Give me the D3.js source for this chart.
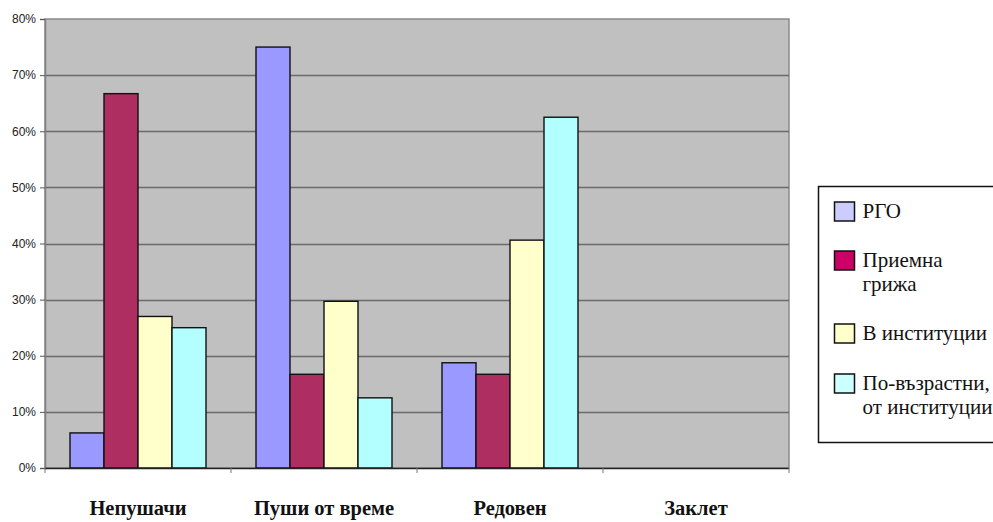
<!DOCTYPE html>
<html>
<head>
<meta charset="utf-8">
<script src="https://cdn.jsdelivr.net/npm/d3@7"></script>
<style>
  html, body { margin: 0; padding: 0; background: #fff; }
  svg { display: block; }
</style>
</head>
<body>
<svg id="chart" width="993" height="522"></svg>
<script>
// Smoking status categories and the four groups compared within each
const categories = ["Непушачи", "Пуши от време", "Редовен", "Заклет"];
const seriesNames = ["РГО", "Приемна грижа", "В институции", "По-възрастни, от институции"];
const legendLines = [["РГО"], ["Приемна", "грижа"], ["В институции"], ["По-възрастни,", "от институции"]];

// Share (%) per category for each group
const rgo         = [6.25, 75.0, 18.75, 0];
const foster      = [66.7, 16.7, 16.7, 0];
const institution = [27.0, 29.7, 40.6, 0];
const older       = [25.0, 12.5, 62.5, 0];
const seriesValues = [rgo, foster, institution, older];

const yTicks = [0, 10, 20, 30, 40, 50, 60, 70, 80];

const barColors = ["#9999FF", "#AE2E62", "#FFFFCC", "#B3FFFF"];
const swatchColors = ["#CCCCFF", "#CC0066", "#FFFFCC", "#CCFFFF"];

const SERIF = '"Liberation Serif"';
const SANS = '"Liberation Sans"';

const svg = d3.select("#chart");
const plot = { left: 45, right: 789, top: 19, bottom: 468 };

const x0 = d3.scaleBand().domain(categories).range([plot.left, plot.right]).padding(0);
const x1 = d3.scaleBand().domain(d3.range(seriesNames.length))
  .range([25, x0.bandwidth() - 25]).padding(0);
const y = d3.scaleLinear().domain([0, 80]).range([plot.bottom, plot.top]);

// Plot background
svg.append("rect")
  .attr("x", plot.left).attr("y", plot.top)
  .attr("width", plot.right - plot.left).attr("height", plot.bottom - plot.top)
  .attr("fill", "#C0C0C0")
  .attr("stroke", "#8a8a8a").attr("stroke-width", 1.5);

// Horizontal gridlines
svg.append("g").selectAll("line")
  .data(yTicks.filter(t => t > 0 && t < 80))
  .join("line")
  .attr("x1", plot.left).attr("x2", plot.right)
  .attr("y1", d => Math.round(y(d)) + 0.5).attr("y2", d => Math.round(y(d)) + 0.5)
  .attr("stroke", "#6a6a6a").attr("stroke-width", 1.3);

// Y axis
const yAxis = svg.append("g")
  .attr("transform", `translate(${plot.left},0)`)
  .call(d3.axisLeft(y).tickValues(yTicks).tickFormat(d => d + "%").tickSize(5).tickPadding(4));
yAxis.select(".domain").attr("stroke", "#808080").attr("stroke-width", 1.5);
yAxis.selectAll(".tick line").attr("stroke", "#555");
yAxis.selectAll("text")
  .style("font-family", SANS)
  .style("font-size", "12px").attr("fill", "#222");

// Bars
const groups = svg.append("g").selectAll("g")
  .data(categories)
  .join("g")
  .attr("transform", d => `translate(${x0(d)},0)`);

groups.selectAll("rect")
  .data((d, ci) => seriesValues.map((vals, si) => ({ si, v: vals[ci] })).filter(o => o.v > 0))
  .join("rect")
  .attr("x", d => x1(d.si))
  .attr("y", d => y(d.v))
  .attr("width", x1.bandwidth())
  .attr("height", d => y(0) - y(d.v))
  .attr("fill", d => barColors[d.si])
  .attr("stroke", "#111").attr("stroke-width", 1.4);

// X axis
const xAxis = svg.append("g")
  .attr("transform", `translate(0,${plot.bottom})`)
  .call(d3.axisBottom(x0).tickSize(5).tickFormat(""));
xAxis.select(".domain").attr("stroke", "#222").attr("stroke-width", 1.5)
  .attr("d", `M${plot.left},0.5H${plot.right}`);
xAxis.selectAll(".tick").attr("transform", d => `translate(${x0(d)},0)`);
xAxis.selectAll(".tick line").attr("stroke", "#777");
xAxis.append("line")
  .attr("x1", plot.right).attr("x2", plot.right).attr("y1", 0).attr("y2", 5).attr("stroke", "#777");

// Category labels
svg.append("g").selectAll("text")
  .data(categories)
  .join("text")
  .attr("x", d => x0(d) + x0.bandwidth() / 2)
  .attr("y", 515)
  .attr("text-anchor", "middle")
  .style("font-family", SERIF)
  .style("font-weight", "bold")
  .style("font-size", "20.5px")
  .attr("fill", "#111")
  .text(d => d);

// Legend
const legend = svg.append("g");
legend.append("rect")
  .attr("x", 818.5).attr("y", 186.5).attr("width", 200).attr("height", 256)
  .attr("fill", "#fff").attr("stroke", "#111").attr("stroke-width", 1.5);

const baselines = [218, 267, 340, 390];
const item = legend.selectAll("g.item")
  .data(seriesNames)
  .join("g").attr("class", "item")
  .attr("transform", (d, i) => `translate(834.5,${baselines[i]})`);
item.append("rect")
  .attr("x", 0).attr("y", -16).attr("width", 20).attr("height", 19)
  .attr("fill", (d, i) => swatchColors[i])
  .attr("stroke", "#111").attr("stroke-width", 1.5);
item.append("text")
  .style("font-family", SERIF)
  .style("font-size", "21px").attr("fill", "#111")
  .selectAll("tspan")
  .data((d, i) => legendLines[i])
  .join("tspan")
  .attr("x", 28)
  .attr("y", (d, j) => j * 23.5)
  .text(d => d);
</script>
</body>
</html>
